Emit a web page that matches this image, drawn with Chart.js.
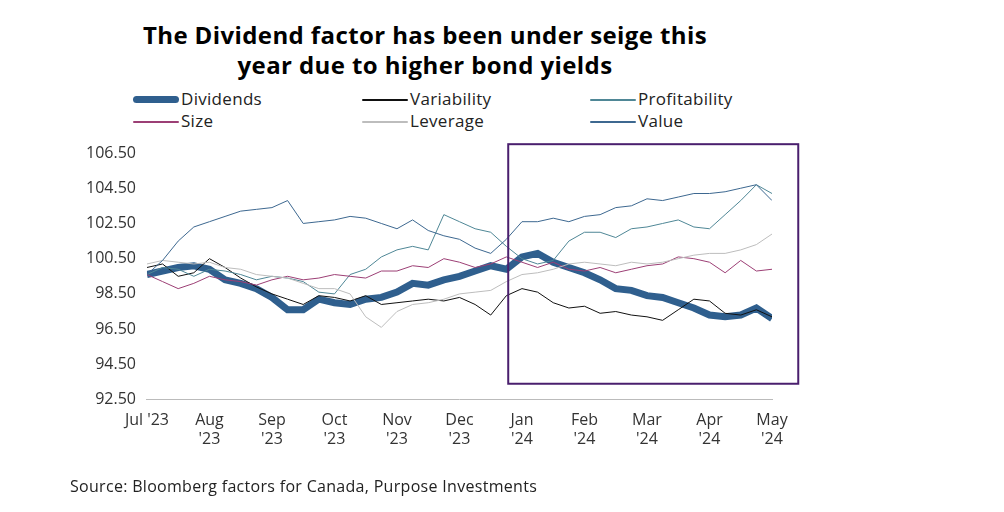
<!DOCTYPE html>
<html><head><meta charset="utf-8">
<script src="https://cdn.jsdelivr.net/npm/chart.js@4"></script>
<style>
body{margin:0;background:#fff;font-family:"Open Sans",sans-serif;}
#wrap{position:relative;width:1004px;height:512px;}
#title{position:absolute;left:100px;top:20px;width:650px;text-align:center;font:bold 24px "Open Sans",sans-serif;line-height:30px;color:#000;letter-spacing:0.4px;}
#src{position:absolute;left:70px;top:475px;font:16px "Open Sans",sans-serif;color:#222;letter-spacing:0.3px;}
#legend{position:absolute;left:0;top:88px;font:17px "Open Sans",sans-serif;color:#222;letter-spacing:0.3px;}
.li{position:absolute;height:22px;white-space:nowrap;line-height:22px;}
.li span.ln{position:absolute;left:0;width:46px;border-radius:4px;}
.li span.tx{position:absolute;left:48px;}
canvas{position:absolute;left:0;top:0;}
</style></head>
<body><div id="wrap">
<div id="title">The Dividend factor has been under seige this<br>year due to higher bond yields</div>
<div id="legend"></div>
<canvas id="c" width="1004" height="512"></canvas>
<div id="src">Source: Bloomberg factors for Canada, Purpose Investments</div>
</div>
<script>
// months since Jul '23, quarter-month steps
const steps = Array.from({length: 41}, (_, i) => i / 4);
const monthLabels = [["Jul '23"], ["Aug", "'23"], ["Sep", "'23"], ["Oct", "'23"], ["Nov", "'23"], ["Dec", "'23"], ["Jan", "'24"], ["Feb", "'24"], ["Mar", "'24"], ["Apr", "'24"], ["May", "'24"]];

const dividends = [99.6,99.8,100.0,100.1,99.9,99.3,99.1,98.8,98.3,97.6,97.6,98.2,98.0,97.9,98.2,98.3,98.6,99.1,99.0,99.3,99.5,99.8,100.1,99.9,100.6,100.8,100.3,100.0,99.7,99.3,98.8,98.7,98.4,98.3,98.0,97.7,97.3,97.2,97.3,97.7,97.1];
const variability = [100.0,100.2,99.5,99.7,100.5,100.0,99.4,98.9,98.5,98.2,97.9,98.4,98.3,98.1,98.4,97.9,98.0,98.1,98.2,98.1,98.3,97.9,97.3,98.4,98.8,98.6,98.0,97.7,97.8,97.4,97.5,97.3,97.2,97.0,97.6,98.2,98.1,97.4,97.3,97.6,97.2];
const profitability = [99.6,100.0,99.9,99.5,99.9,99.8,99.6,99.3,99.5,99.4,99.2,98.6,98.5,99.6,99.9,100.6,101.0,101.2,101.0,103.0,102.6,102.2,102.0,101.2,100.5,100.2,100.4,101.5,102.0,102.0,101.7,102.2,102.3,102.5,102.7,102.3,102.2,103.0,103.8,104.7,104.2];
const size = [99.6,99.2,98.8,99.1,99.5,99.3,99.2,99.0,99.3,99.5,99.3,99.4,99.6,99.5,99.4,99.8,99.8,100.1,100.0,100.5,100.3,100.0,100.2,100.6,100.3,100.0,100.3,99.9,99.8,100.0,99.7,99.9,100.1,100.2,100.6,100.5,100.3,99.7,100.4,99.8,99.9];
const leverage = [100.2,100.4,100.3,100.2,100.3,100.0,99.9,99.6,99.5,99.4,99.1,98.8,98.8,98.5,97.2,96.6,97.5,97.9,98.0,98.2,98.5,98.6,98.7,99.2,99.6,99.7,99.9,100.2,100.3,100.2,100.1,100.3,100.2,100.3,100.5,100.7,100.8,100.8,101.0,101.3,101.9];
const value = [99.6,100.4,101.5,102.3,102.6,102.9,103.2,103.3,103.4,103.8,102.5,102.6,102.7,102.9,102.8,102.5,102.2,102.7,102.1,101.8,101.6,101.1,100.8,101.6,102.6,102.6,102.8,102.6,102.9,103.0,103.4,103.5,103.9,103.8,104.0,104.2,104.2,104.3,104.5,104.7,103.8];

const series = [
  {label: 'Dividends', data: dividends, color: '#2f5f8e', width: 7, lx: 133, ly: 0},
  {label: 'Variability', data: variability, color: '#111111', width: 1, lx: 362, ly: 0},
  {label: 'Profitability', data: profitability, color: '#4f8796', width: 1, lx: 590, ly: 0},
  {label: 'Size', data: size, color: '#9c3f75', width: 1, lx: 133, ly: 22},
  {label: 'Leverage', data: leverage, color: '#bdbdbd', width: 1, lx: 362, ly: 22},
  {label: 'Value', data: value, color: '#3d6890', width: 1, lx: 590, ly: 22}
];

const legend = document.getElementById('legend');
series.forEach(s => {
  const d = document.createElement('div');
  d.className = 'li';
  d.style.left = s.lx + 'px';
  d.style.top = s.ly + 'px';
  const h = s.width > 1 ? s.width : 2;
  d.innerHTML = `<span class="ln" style="top:${12 - Math.round(h / 2)}px;height:${h}px;background:${s.color}"></span><span class="tx">${s.label}</span>`;
  legend.appendChild(d);
});

const boxPlugin = {
  id: 'box',
  afterDraw(chart) {
    const {ctx, scales: {x, y}} = chart;
    const x0 = x.getPixelForValue(5.78), x1 = x.getPixelForValue(10.42);
    const y0 = y.getPixelForValue(107.0), y1 = y.getPixelForValue(93.4);
    ctx.save();
    ctx.strokeStyle = '#4a1f6e';
    ctx.lineWidth = 2;
    ctx.strokeRect(x0, y0, x1 - x0, y1 - y0);
    ctx.restore();
  }
};

new Chart(document.getElementById('c'), {
  type: 'line',
  data: {
    datasets: series.slice().reverse().map(s => ({
      label: s.label,
      data: steps.map((m, i) => ({x: m, y: s.data[i]})),
      borderColor: s.color,
      borderWidth: s.width,
      pointRadius: 0,
      tension: 0
    }))
  },
  options: {
    responsive: false,
    animation: false,
    layout: {padding: {left: 83, right: 232, top: 153, bottom: 60}},
    plugins: {legend: {display: false}, tooltip: {enabled: false}},
    scales: {
      x: {
        type: 'linear', min: 0, max: 10,
        grid: {display: false},
        border: {color: '#bbb'},
        ticks: {stepSize: 1, color: '#333', font: {size: 16, family: 'Open Sans'}, maxRotation: 0,
          callback: v => monthLabels[v]}
      },
      y: {
        min: 92.5, max: 106.5,
        grid: {display: false},
        border: {display: false},
        ticks: {stepSize: 2, color: '#333', font: {size: 16, family: 'Open Sans'},
          callback: v => v.toFixed(2)}
      }
    }
  },
  plugins: [boxPlugin]
});
</script>
</body></html>
